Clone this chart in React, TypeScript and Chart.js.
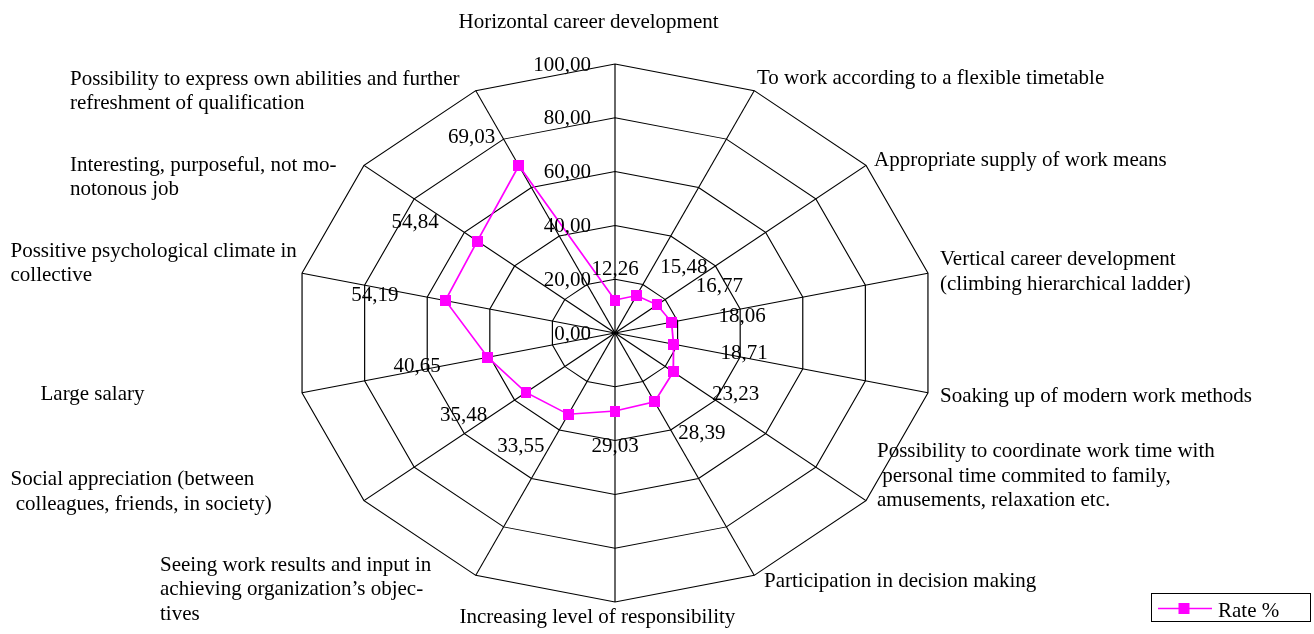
import React, { useEffect, useRef } from 'react';
import { Chart, registerables } from 'chart.js';

Chart.register(...registerables);

// ---------- data ----------
const CATEGORIES: string[][] = [
  ['Horizontal career development'],
  ['To work according to a flexible timetable'],
  ['Appropriate supply of work means'],
  ['Vertical career development', '(climbing hierarchical ladder)'],
  ['Soaking up of modern work methods'],
  ['Possibility to coordinate work time with', ' personal time commited to family,', 'amusements, relaxation etc.'],
  ['Participation in decision making'],
  ['Increasing level of responsibility'],
  ['Seeing work results and input in', 'achieving organization\u2019s objec-', 'tives'],
  ['Social appreciation (between', ' colleagues, friends, in society)'],
  ['Large salary'],
  ['Possitive psychological climate in', 'collective'],
  ['Interesting, purposeful, not mo-', 'notonous job'],
  ['Possibility to express own abilities and further', 'refreshment of qualification'],
];

const RATE: number[] = [12.26, 15.48, 16.77, 18.06, 18.71, 23.23, 28.39, 29.03, 33.55, 35.48, 40.65, 54.19, 54.84, 69.03];

const SERIES_NAME = 'Rate %';
const AXIS_MIN = 0;
const AXIS_MAX = 100;
const AXIS_STEP = 20;

// ---------- layout / style ----------
const MAGENTA = '#FF00FF';
const FONT = '21px "Liberation Serif", "Times New Roman", serif';
const STRETCH = 321 / 269; // horizontal stretch of the radar polygon
const LINE_H = 24.7;
// left edge and first baseline of each category text block (page px)
const LABEL_ANCHORS: [number, number][] = [
  [458.5, 27.5],
  [757, 83.5],
  [874, 165.5],
  [940, 265],
  [940, 401.5],
  [877, 457],
  [764, 587],
  [459.5, 622.5],
  [160, 570.5],
  [10.5, 485],
  [40.5, 400],
  [10.5, 256.5],
  [70, 170.5],
  [70, 84.5],
];

const fmt = (v: number) => v.toFixed(2).replace('.', ',');

const stretchPlugin = {
  id: 'stretchAndText',
  beforeDraw(chart: any) {
    const s = chart.scales.r;
    const ctx = chart.ctx;
    ctx.save();
    ctx.translate(s.xCenter, 0);
    ctx.scale(STRETCH, 1);
    ctx.translate(-s.xCenter, 0);
  },
  afterDraw(chart: any) {
    const ctx = chart.ctx;
    ctx.restore();
    const s = chart.scales.r;
    const xc = s.xCenter;
    const yc = s.yCenter;
    const mapX = (x: number) => xc + STRETCH * (x - xc);

    ctx.save();
    ctx.font = FONT;
    ctx.fillStyle = '#000';

    // tick labels
    ctx.textAlign = 'right';
    ctx.textBaseline = 'middle';
    s.ticks.forEach((t: any) => {
      const d = s.getDistanceFromCenterForValue(t.value);
      ctx.fillText(fmt(t.value), xc - 24, yc - d + 1);
    });

    // data labels
    const meta = chart.getDatasetMeta(0);
    const values = chart.data.datasets[0].data as number[];
    meta.data.forEach((el: any, i: number) => {
      const a = s.getIndexAngle(i);
      const sn = Math.sin(a);
      const cs = Math.cos(a);
      const x = mapX(el.x);
      const y = el.y;
      let align: CanvasTextAlign = 'center';
      let dx = 0;
      const gap = 5 + 43 * Math.abs(sn);
      if (sn > 0.01) { align = 'left'; dx = gap; }
      else if (sn < -0.01) { align = 'right'; dx = -gap; }
      ctx.textAlign = align;
      ctx.fillText(fmt(values[i]), x + dx, y - cs * 33 + 2);
    });

    // category labels
    ctx.textAlign = 'left';
    ctx.textBaseline = 'alphabetic';
    CATEGORIES.forEach((lines, i) => {
      const [ax, ay] = LABEL_ANCHORS[i];
      lines.forEach((ln, j) => ctx.fillText(ln, ax, ay + j * LINE_H));
    });

    // legend
    ctx.strokeStyle = '#000';
    ctx.lineWidth = 1;
    ctx.strokeRect(1151.5, 593.5, 159, 28);
    ctx.strokeStyle = MAGENTA;
    ctx.lineWidth = 1.5;
    ctx.beginPath();
    ctx.moveTo(1158, 608.5);
    ctx.lineTo(1212, 608.5);
    ctx.stroke();
    ctx.fillStyle = MAGENTA;
    ctx.fillRect(1178.5, 603, 11, 11);
    ctx.fillStyle = '#000';
    ctx.fillText(chart.data.datasets[0].label, 1218, 617);

    ctx.restore();
  },
};

export default function App() {
  const ref = useRef<HTMLCanvasElement>(null);

  useEffect(() => {
    const canvas = ref.current;
    if (!canvas) return;
    const marker = document.createElement('canvas');
    marker.width = 9;
    marker.height = 11;
    const mctx = marker.getContext('2d');
    if (mctx) {
      mctx.fillStyle = MAGENTA;
      mctx.fillRect(0, 0, 9, 11);
    }
    const chart = new Chart(canvas, {
      type: 'radar',
      data: {
        labels: CATEGORIES.map((l) => l.join(' ')),
        datasets: [
          {
            label: SERIES_NAME,
            data: RATE,
            borderColor: MAGENTA,
            backgroundColor: MAGENTA,
            borderWidth: 1.5,
            fill: false,
            tension: 0,
            pointStyle: marker as any,
            pointRadius: 6,
            pointBorderWidth: 0,
            pointBackgroundColor: MAGENTA,
          },
        ],
      },
      options: {
        responsive: false,
        animation: false,
        devicePixelRatio: 1,
        events: [],
        layout: { padding: { left: 346, right: 430, top: 64, bottom: 32 } },
        plugins: {
          legend: { display: false },
          tooltip: { enabled: false },
          title: { display: false },
        },
        scales: {
          r: {
            min: AXIS_MIN,
            max: AXIS_MAX,
            beginAtZero: true,
            ticks: { stepSize: AXIS_STEP, display: false },
            pointLabels: { display: false },
            grid: { color: '#000', lineWidth: 1 },
            angleLines: { color: '#000', lineWidth: 1 },
          },
        },
      } as any,
      plugins: [stretchPlugin],
    });
    return () => chart.destroy();
  }, []);

  return (
    <div style={{ position: 'fixed', left: 0, top: 0, width: 1314, height: 634, background: '#fff' }}>
      <canvas ref={ref} width={1314} height={634} style={{ display: 'block' }} />
    </div>
  );
}
